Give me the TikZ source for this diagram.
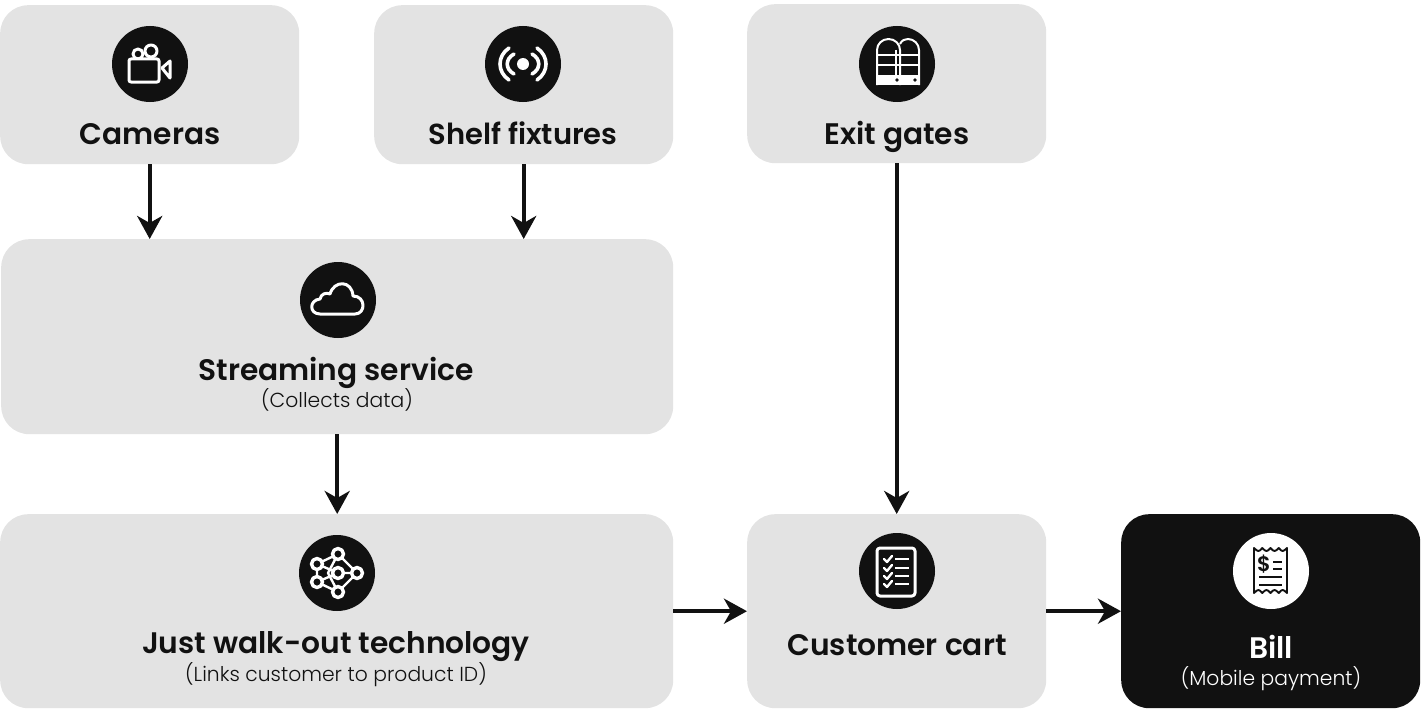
\documentclass[tikz,border=0pt]{standalone}
\usepackage{fontspec}
\setmainfont{Poppins Light}[BoldFont={Poppins SemiBold}]
\usetikzlibrary{arrows.meta,calc}
\definecolor{boxgray}{HTML}{E3E3E3}
\definecolor{ink}{HTML}{111111}
\tikzset{
  card/.style={rectangle,rounded corners=28pt,fill=boxgray,draw=none,inner sep=0pt,anchor=north west},
  darkcard/.style={card,fill=ink},
  badge/.style={circle,fill=ink,minimum size=76pt,inner sep=0pt},
  lightbadge/.style={circle,fill=white,minimum size=76pt,inner sep=0pt},
  title/.style={font=\fontsize{29.7}{32}\selectfont\bfseries,text=ink,inner sep=0pt,anchor=base},
  sub/.style={font=\fontsize{20.3}{24}\selectfont,text=ink,inner sep=0pt,anchor=base},
  flow/.style={draw=ink,line width=4.2pt,-{Stealth[length=23pt,width=25pt,inset=7pt]}},
  glyph/.style={draw=white,line width=3pt,line join=round,line cap=round},
}
\begin{document}
\begin{tikzpicture}[x=1pt,y=-1pt]
\useasboundingbox (0,0) rectangle (1421,709);
% cards
\node[card,minimum width=299pt,minimum height=159pt] (cam) at (0,5) {};
\node[card,minimum width=299pt,minimum height=159pt] (shelf) at (374,5) {};
\node[card,minimum width=299pt,minimum height=159pt] (gate) at (747,4) {};
\node[card,minimum width=672pt,minimum height=195pt] (stream) at (1,239) {};
\node[card,minimum width=673pt,minimum height=194pt] (walk) at (0,514) {};
\node[card,minimum width=299pt,minimum height=194pt] (cart) at (747,514) {};
\node[darkcard,minimum width=299pt,minimum height=194pt] (bill) at (1121,514) {};
% badges
\node[badge] (camB) at (150,64) {};
\node[badge] (shelfB) at (523,64) {};
\node[badge] (gateB) at (897,64) {};
\node[badge] (streamB) at (338,300) {};
\node[badge] (walkB) at (337,573) {};
\node[badge] (cartB) at (897,571) {};
\node[lightbadge] (billB) at (1271,571) {};
% labels
\node[title] (camT) at (150,144) {Cameras};
\node[title,font=\fontsize{29}{32}\selectfont\bfseries] (shelfT) at (523,144) {Shelf fixtures};
\node[title] (gateT) at (897,144) {Exit gates};
\node[title] (streamT) at (336,380) {Streaming service};
\node[sub] (streamS) at (337,407) {(Collects data)};
\node[title] (walkT) at (336,653) {Just walk-out technology};
\node[sub] (walkS) at (336,681) {(Links customer to product ID)};
\node[title] (cartT) at (897,655) {Customer cart};
\node[title,text=white] (billT) at (1271,658) {Bill};
\node[sub,text=white] (billS) at (1271,685) {(Mobile payment)};
% connectors
\draw[flow] (cam.south) -- (cam.south |- stream.north);
\draw[flow] (shelf.south) -- (shelf.south |- stream.north);
\draw[flow] (stream.south) -- (stream.south |- walk.north);
\draw[flow] (gate.south) -- (gate.south |- cart.north);
\draw[flow] (walk.east) -- (cart.west);
\draw[flow] (cart.east) -- (bill.west);
% camera icon
\begin{scope}[shift={(camB.center)}]
\draw[glyph] (-12,-10) circle (5);
\draw[glyph] (1,-13) circle (6);
\draw[glyph,rounded corners=2pt,fill=ink] (-21,-5) rectangle (9,18);
\draw[glyph] (12,4) -- (20,-3) -- (20,14) -- cycle;
\end{scope}
% shelf icon
\begin{scope}[shift={(shelfB.center)}]
\fill[white] (0,0) circle (6);
\draw[glyph,line width=3.6pt] (-9,-10) .. controls (-18,-5) and (-18,5) .. (-9,10);
\draw[glyph,line width=3.6pt] (9,-10) .. controls (18,-5) and (18,5) .. (9,10);
\draw[glyph,line width=3.6pt] (-14,-16) .. controls (-26,-8) and (-26,8) .. (-14,16);
\draw[glyph,line width=3.6pt] (14,-16) .. controls (26,-8) and (26,8) .. (14,16);
\end{scope}
% gate icon
\begin{scope}[shift={(gateB.center)}]
\fill[white] (-20,11) rectangle (22,21);
\fill[ink] (0,16) circle (1.8);
\fill[ink] (18,16) circle (1.8);
\draw[glyph,line width=2pt,line cap=butt] (3,-20) .. controls (5,-24) and (8,-25) .. (11,-25) .. controls (17,-25) and (22,-20) .. (22,-14) -- (22,21);
\draw[glyph,line width=2pt,line cap=butt] (-20,21) -- (-20,-14) .. controls (-20,-20) and (-15,-25) .. (-8.5,-25) .. controls (-2,-25) and (3,-20) .. (3,-14) -- (3,21);
\draw[glyph,line width=1.4pt,line cap=butt] (-1,-14) -- (-1,11);
\draw[glyph,line width=1.8pt,line cap=butt] (-20,-9) -- (22,-9);
\draw[glyph,line width=1.8pt,line cap=butt] (-20,1) -- (22,1);
\end{scope}
% network icon
\begin{scope}[shift={(walkB.center)}]
\draw[glyph,line width=2.4pt] (1,-19) -- (-20,-9) -- (-20,9) -- (1,19) -- (20,0) -- cycle;
\draw[glyph,line width=2.4pt] (-20,-9) -- (1,0) -- (-20,9) (1,-19) -- (-9,0) -- (1,19) (1,0) -- (20,0);
\foreach \px/\py in {1/-19,-20/-9,-20/9,1/19,20/0,1/0}
  \draw[glyph,line width=3.4pt,fill=ink] (\px,\py) circle (5.5);
\end{scope}
% cloud icon
\begin{scope}[shift={(streamB.center)}]
\draw[glyph] (-18,14) .. controls (-29,14) and (-29,0) .. (-18,-1) .. controls (-17,-6) and (-12,-8) .. (-8,-6) .. controls (-4,-20) and (14,-20) .. (15,-4) .. controls (28,-4) and (28,14) .. (17,14) -- cycle;
\end{scope}
% checklist icon
\begin{scope}[shift={(cartB.center)}]
\draw[glyph,rounded corners=3pt] (-20,-23) rectangle (18,25);
\foreach \ry in {-12,-3,5,13}{
  \draw[glyph,line width=2.4pt] (-13,\ry) -- (-10,\ry+3) -- (-5,\ry-3);
  \draw[glyph,line width=2.8pt,line cap=butt] (-2,\ry) -- (12,\ry);
}
\end{scope}
% receipt icon
\begin{scope}[shift={(billB.center)}]
\draw[draw=ink,line width=1.9pt,line join=round,fill=white]
  (-17,-23) .. controls (-13,-19) and (-12,-19) .. (-8.75,-23) .. controls (-5,-19) and (-4,-19) .. (-0.5,-23) .. controls (3,-19) and (4,-19) .. (7.75,-23) .. controls (11,-19) and (12,-19) .. (16,-23)
  -- (16,22) .. controls (12,18) and (11,18) .. (7.75,22) .. controls (4,18) and (3,18) .. (-0.5,22) .. controls (-4,18) and (-5,18) .. (-8.75,22) .. controls (-12,18) and (-13,18) .. (-17,22) -- cycle;
\node[font=\fontsize{21}{21}\selectfont\bfseries,text=ink,inner sep=0pt] (billD) at (-7,-7) {\$};
\draw[draw=ink,line width=1.9pt] (2,-9) -- (11,-9) (2,-2) -- (11,-2) (-12,6) -- (11,6) (-12,14) -- (11,14);
\end{scope}
\end{tikzpicture}
\end{document}
